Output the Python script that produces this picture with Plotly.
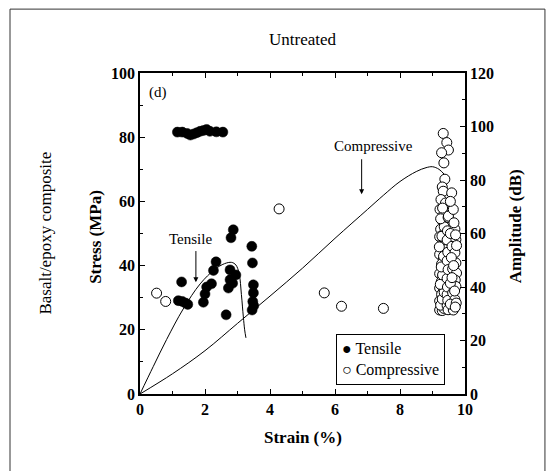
import plotly.graph_objects as go

# ---- Data ----
# Stress-strain curves (left axis, MPa)
tens_curve_x = [0, 0.41, 0.82, 1.33, 1.85, 2.3, 2.6, 2.82, 2.95, 3.05, 3.12, 3.18, 3.22, 3.26]
tens_curve_y = [0, 8.6, 17.0, 26.5, 34.3, 38.8, 40.6, 41.0, 40.2, 37.5, 31.0, 24.0, 20.0, 17.5]

comp_curve_x = [0, 1, 2, 3, 4, 5, 6, 7, 7.5, 8, 8.5, 8.8, 9.0, 9.2, 9.4]
comp_curve_y = [0, 6.3, 13.5, 22.0, 30.5, 39.2, 48.5, 57.5, 62.0, 66.2, 69.3, 70.5, 70.8, 70.0, 68.0]

# AE amplitude hits (right axis, dB)
tens_x = [1.15, 1.3, 1.45, 1.55, 1.65, 1.75, 1.85, 1.95, 2.05, 2.15, 2.35, 2.55,
          1.28, 1.18, 1.3, 1.4, 1.47, 1.95, 2.0, 2.05, 2.2, 2.26, 2.34,
          2.77, 2.77, 2.72, 2.85, 2.65, 2.8, 2.87, 2.95,
          3.44, 3.46, 3.49, 3.49, 3.47, 3.45, 3.5]
tens_db = [97.9, 97.9, 97.4, 96.8, 97.2, 97.7, 98.2, 98.5, 98.9, 98.2, 98.0, 97.9,
           41.9, 34.9, 34.6, 34.0, 33.5, 34.3, 37.4, 40.0, 41.2, 46.2, 49.4,
           46.4, 42.7, 39.6, 41.4, 29.6, 58.4, 61.4, 44.5,
           55.2, 49.0, 40.8, 37.8, 34.6, 31.4, 33.0]

comp_x = [0.51, 0.79, 4.28, 5.67, 6.2, 7.49,
          # left column of the end-of-test cluster
          9.33, 9.44, 9.49, 9.28, 9.35, 9.38, 9.30, 9.33, 9.26, 9.40, 9.23, 9.35, 9.30,
          9.25, 9.38, 9.22, 9.32, 9.27, 9.40, 9.22, 9.33, 9.28, 9.38, 9.22, 9.32, 9.27,
          9.40, 9.22, 9.33, 9.28, 9.38, 9.22, 9.32, 9.27, 9.38, 9.22, 9.30, 9.35, 9.25,
          9.30, 9.36, 9.24, 9.31, 9.27, 9.34, 9.21, 9.29, 9.36, 9.25, 9.31,
          # middle column
          9.45, 9.45, 9.45, 9.45, 9.45, 9.48, 9.47, 9.46, 9.48, 9.47, 9.46, 9.48,
          # right column
          9.49, 9.59, 9.64, 9.55, 9.69, 9.72, 9.60, 9.69, 9.72, 9.62, 9.74, 9.70, 9.72,
          9.62, 9.69, 9.64, 9.55, 9.55, 9.58, 9.55, 9.66, 9.71, 9.68, 9.73, 9.65, 9.70,
          9.60, 9.74]
comp_db = [37.7, 34.6, 69.2, 37.8, 32.8, 32.0,
           97.4, 94.0, 91.2, 90.2, 86.4, 80.3, 77.4, 75.8, 72.7, 71.4, 69.0, 67.2, 64.8,
           61.6, 60.6, 58.8, 57.0, 55.2, 54.0, 52.2, 50.4, 48.6, 46.8, 45.0, 43.8, 42.0,
           40.8, 39.6, 38.4, 37.2, 36.0, 34.8, 33.6, 32.4, 31.8, 31.4, 31.2, 32.0, 33.2,
           35.5, 38.0, 41.0, 44.5, 47.5, 51.5, 55.0, 59.0, 62.5, 65.5, 69.5,
           33.0, 37.2, 43.2, 49.8, 57.6, 31.5, 35.0, 40.0, 46.5, 53.0, 61.0, 66.0,
           66.5, 75.2, 69.0, 72.0, 61.6, 57.7, 55.2, 52.8, 49.0, 46.8, 45.2, 42.6, 40.2,
           37.8, 35.3, 31.4, 33.6, 60.0, 51.0, 41.4, 64.0, 59.5, 38.5, 34.0, 48.0, 32.5,
           43.5, 55.5]

legend_labels = ["Tensile", "Compressive"]
legend_glyphs = ["\u25CF", "\u25CB"]

# ---- Figure ----
FONT = "Liberation Serif"
fig = go.Figure()

fig.add_trace(go.Scatter(x=tens_curve_x, y=tens_curve_y, mode="lines",
                         line=dict(color="black", width=1, shape="spline"),
                         showlegend=False, yaxis="y"))
fig.add_trace(go.Scatter(x=comp_curve_x, y=comp_curve_y, mode="lines",
                         line=dict(color="black", width=1, shape="spline"),
                         showlegend=False, yaxis="y"))

fig.add_trace(go.Scatter(x=tens_x, y=tens_db, mode="markers", name=legend_labels[0],
                         marker=dict(symbol="circle", size=10, color="black",
                                     line=dict(color="black", width=0.5)),
                         showlegend=False, yaxis="y2"))
fig.add_trace(go.Scatter(x=comp_x, y=comp_db, mode="markers", name=legend_labels[1],
                         marker=dict(symbol="circle", size=10, color="white",
                                     line=dict(color="black", width=1)),
                         showlegend=False, yaxis="y2"))

axis_common = dict(showline=True, linecolor="black", linewidth=1.5,
                   ticks="inside", ticklen=5, tickcolor="black", tickwidth=1,
                   showgrid=False, zeroline=False,
                   tickfont=dict(family=FONT, size=16, color="black", weight="bold"))

fig.update_layout(
    width=548, height=471,
    margin=dict(l=140, r=83, t=73, b=77),
    paper_bgcolor="white", plot_bgcolor="white",
    font=dict(family=FONT, color="black"),
    xaxis=dict(range=[0, 10], dtick=2, mirror="ticks",
               minor=dict(ticks="inside", ticklen=3, dtick=1, tickcolor="black"),
               **axis_common),
    yaxis=dict(range=[0, 100], dtick=20,
               minor=dict(ticks="inside", ticklen=3, dtick=10, tickcolor="black"),
               **axis_common),
    yaxis2=dict(range=[0, 120], dtick=20, overlaying="y", side="right",
                minor=dict(ticks="inside", ticklen=3, dtick=10, tickcolor="black"),
                **axis_common),
    showlegend=False,
)

legend_text = "<br>".join(f"{g} {t}" for g, t in zip(legend_glyphs, legend_labels))

annotations = [
    dict(text="Untreated", xref="paper", yref="paper", x=0.5, y=1.103,
         xanchor="center", yanchor="middle",
         showarrow=False, font=dict(family=FONT, size=17)),
    dict(text="(d)", xref="x", yref="y", x=0.55, y=94.0, showarrow=False,
         xanchor="center", yanchor="middle", font=dict(family=FONT, size=15)),
    dict(text="Basalt/epoxy composite", xref="paper", yref="paper", x=-0.292, y=0.5,
         xanchor="center", yanchor="middle",
         textangle=-90, showarrow=False, font=dict(family=FONT, size=17)),
    dict(text="Stress (MPa)", xref="paper", yref="paper", x=-0.135, y=0.49,
         xanchor="center", yanchor="middle",
         textangle=-90, showarrow=False, font=dict(family=FONT, size=17, weight="bold")),
    dict(text="Amplitude (dB)", xref="paper", yref="paper", x=1.154, y=0.523,
         xanchor="center", yanchor="middle",
         textangle=-90, showarrow=False, font=dict(family=FONT, size=17, weight="bold")),
    dict(text="Strain (%)", xref="paper", yref="paper", x=0.503, y=-0.134,
         xanchor="center", yanchor="middle",
         showarrow=False, font=dict(family=FONT, size=17, weight="bold")),
    dict(text="Tensile", xref="x", yref="y", x=1.54, y=48.2, showarrow=False,
         xanchor="center", yanchor="middle", font=dict(family=FONT, size=15)),
    dict(text="", xref="x", yref="y", x=1.72, y=34.8, ax=1.72, ay=45.0,
         axref="x", ayref="y", showarrow=True, arrowhead=2, arrowsize=1,
         arrowwidth=1, arrowcolor="black"),
    dict(text="Compressive", xref="x", yref="y", x=7.17, y=77.3, showarrow=False,
         xanchor="center", yanchor="middle", font=dict(family=FONT, size=15)),
    dict(text="", xref="x", yref="y", x=6.82, y=62.2, ax=6.82, ay=73.6,
         axref="x", ayref="y", showarrow=True, arrowhead=2, arrowsize=1,
         arrowwidth=1, arrowcolor="black"),
    # legend box
    dict(text=legend_text, xref="paper", yref="paper", x=0.603, y=0.187,
         xanchor="left", yanchor="top", align="left", showarrow=False,
         bordercolor="black", borderwidth=1, borderpad=5, bgcolor="white",
         font=dict(family=FONT, size=16, color="black")),
]
fig.update_layout(annotations=annotations)

# Outer frame of the figure panel
fig.add_shape(type="rect", xref="paper", yref="paper",
              x0=-0.4, x1=1.246, y0=-0.26, y1=1.199,
              line=dict(color="#333333", width=1), layer="below")

fig.write_html("out.html")
